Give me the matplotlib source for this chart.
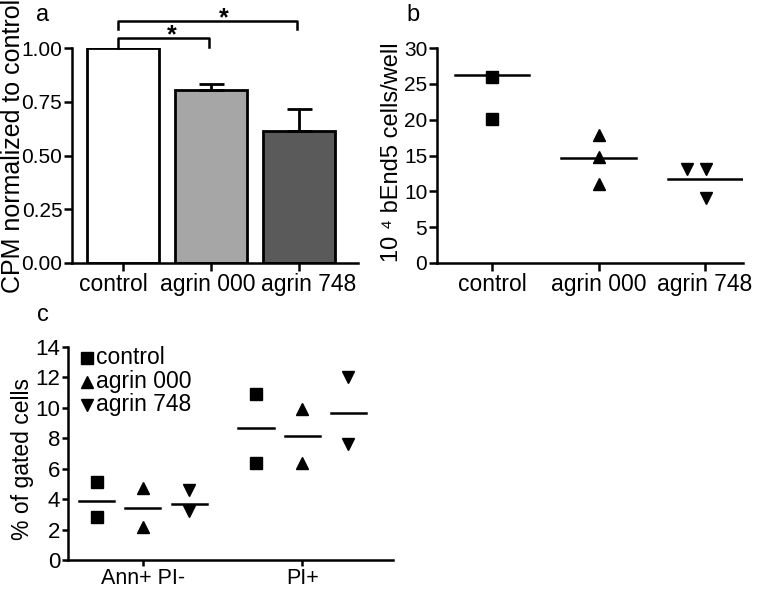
import numpy as np
import matplotlib
matplotlib.use("Agg")
import matplotlib.pyplot as plt
import matplotlib.transforms as mtrans

plt.rcParams['font.family'] = ['Liberation Sans', 'DejaVu Sans']

# panel a - normalized CPM
groups = ["control", "agrin 000", "agrin 748"]
cpm_mean = [1.0, 0.805, 0.615]
cpm_err = [0.0, 0.028, 0.10]
bar_colors = ["#ffffff", "#a6a6a6", "#5a5a5a"]

# panel b - cells per well
ctrl_cells = [26.0, 20.1]
a000_cells = [17.9, 14.8, 11.0]
a748_cells = [13.1, 13.1, 9.1]
cells_line = [26.3, 14.7, 11.7]

# panel c - gated cells
c_cats = ["Ann+ PI-", "PI+"]
c_ctrl = [[5.15, 2.85], [10.9, 6.4]]
c_a000 = [[4.75, 2.2], [9.9, 6.4]]
c_a748 = [[4.6, 3.2], [12.0, 7.6]]
c_ctrl_mean = [3.9, 8.65]
c_a000_mean = [3.4, 8.15]
c_a748_mean = [3.65, 9.65]

W, H = 761, 590
fig = plt.figure(figsize=(W / 100, H / 100), dpi=100)

def style(ax, fs, tl=6):
    for s in ['top', 'right']:
        ax.spines[s].set_visible(False)
    for s in ['left', 'bottom']:
        ax.spines[s].set_linewidth(1.8)
    ax.tick_params(width=1.8, length=tl, labelsize=fs, pad=1)

# ---------- a ----------
axa = fig.add_axes([72 / W, 1 - 263 / H, 286 / W, 215 / H])
x = np.arange(3)
axa.bar(x, cpm_mean, width=0.82, color=bar_colors, edgecolor='black', linewidth=2)
axa.errorbar(x[1:], cpm_mean[1:], yerr=[np.zeros(2), cpm_err[1:]], fmt='none',
             ecolor='black', elinewidth=2, capsize=9, capthick=2)
axa.set_xlim(-0.58, 2.67)
axa.set_ylim(0, 1.0)
axa.set_yticks([0, 0.25, 0.5, 0.75, 1.0])
axa.set_yticklabels(["0.00", "0.25", "0.50", "0.75", "1.00"])
axa.set_xticks(x)
axa.set_xticklabels(groups)
style(axa, 16.5)
axa.tick_params(axis='y', labelsize=15)
# spread the crowded category labels a little, like the original
for lab, dx in zip(axa.get_xticklabels(), [-10, -3, 10]):
    lab.set_transform(lab.get_transform() + mtrans.ScaledTranslation(dx / 100, 0, fig.dpi_scale_trans))
axa.set_ylabel("CPM normalized to control", fontsize=18)
axa.yaxis.set_label_coords(-0.165, 0.545)
# significance brackets
axa.plot([-0.057, -0.057, 0.98, 0.98], [1.0, 1.047, 1.047, 1.005], color='black', lw=1.8, clip_on=False)
axa.plot([-0.057, -0.057, 1.98, 1.98], [1.088, 1.126, 1.126, 1.088], color='black', lw=1.8, clip_on=False)
axa.text(0.55, 1.06, "*", ha='center', va='center', fontsize=18, fontweight='bold')
axa.text(1.15, 1.14, "*", ha='center', va='center', fontsize=18, fontweight='bold')
fig.text(43 / W, 1 - 15 / H, "a", fontsize=17, ha='center', va='center')

# ---------- b ----------
axb = fig.add_axes([437 / W, 1 - 263 / H, 306 / W, 215 / H])
axb.plot([0, 0], ctrl_cells, 's', color='black', ms=8)
axb.plot([1, 1, 1], a000_cells, '^', color='black', ms=9)
axb.plot([1.83, 2.01, 2.01], a748_cells, 'v', color='black', ms=9)
for i, m in enumerate(cells_line):
    axb.plot([i - 0.35, i + 0.35], [m, m], color='black', lw=1.8)
axb.set_xlim(-0.52, 2.36)
axb.set_ylim(0, 30)
axb.set_yticks(range(0, 31, 5))
axb.set_xticks([0, 1, 2])
axb.set_xticklabels(groups)
style(axb, 16.5)
axb.tick_params(axis='y', labelsize=15)
axb.set_ylabel("10 \u2074 bEnd5 cells/well", fontsize=17)
axb.yaxis.set_label_coords(-0.112, 0.516)
fig.text(413 / W, 1 - 15 / H, "b", fontsize=17, ha='center', va='center')

# ---------- c ----------
axc = fig.add_axes([68 / W, 1 - 560 / H, 325 / W, 213 / H])
off = 0.29
for i in range(2):
    axc.plot([i - off] * 2, c_ctrl[i], 's', color='black', ms=8)
    axc.plot([i] * 2, c_a000[i], '^', color='black', ms=9)
    axc.plot([i + off] * 2, c_a748[i], 'v', color='black', ms=9)
    for dx, m in zip([-off, 0, off], [c_ctrl_mean[i], c_a000_mean[i], c_a748_mean[i]]):
        axc.plot([i + dx - 0.11, i + dx + 0.11], [m, m], color='black', lw=1.8)
axc.set_xlim(-0.47, 1.57)
axc.set_ylim(0, 14)
axc.set_yticks(range(0, 15, 2))
axc.set_xticks([0, 1])
axc.set_xticklabels(c_cats)
style(axc, 16, tl=4.5)
axc.tick_params(axis='x', labelsize=15.5)
axc.set_ylabel("% of gated cells", fontsize=16.5)
axc.yaxis.set_label_coords(-0.105, 0.474)
fig.text(43 / W, 1 - 315 / H, "c", fontsize=17, ha='center', va='center')

# legend
leg_labels = ["control", "agrin 000", "agrin 748"]
leg_markers = ['s', '^', 'v']
for k, (lab, mk) in enumerate(zip(leg_labels, leg_markers)):
    yy = 1 - (358 + 23.5 * k) / H
    fig.lines.append(plt.Line2D([87 / W], [yy], marker=mk, color='black', ms=8 if mk == 's' else 9,
                                transform=fig.transFigure, linestyle='none'))
    fig.text(96 / W, yy, lab, fontsize=16.5, va='center', ha='left')

fig.savefig("out.png", dpi=100)
